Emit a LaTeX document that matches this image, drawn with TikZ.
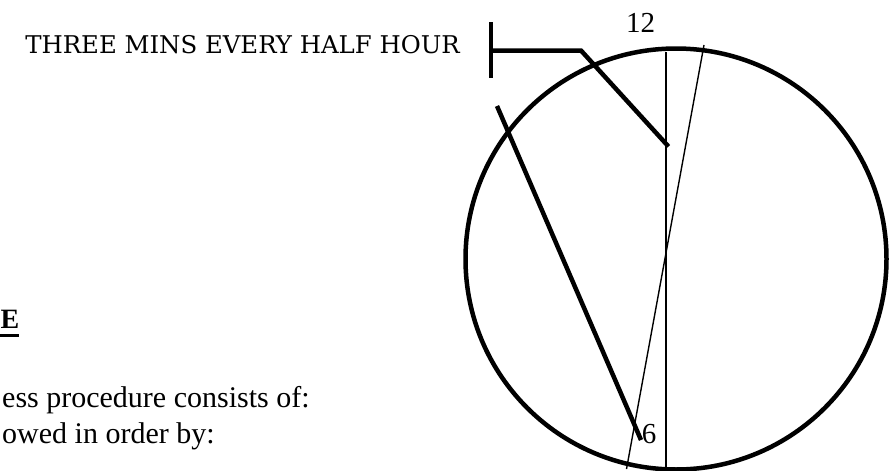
\documentclass[tikz,border=0pt]{standalone}
\usepackage{fontspec}
\setmainfont{Liberation Serif}
\newfontfamily\capsfont{DejaVu Serif}
\begin{document}
\begin{tikzpicture}[x=1pt,y=-1pt,
  thickline/.style={line width=4.5pt},
  thinline/.style={line width=1.4pt},
  txt/.style={inner sep=0pt,font=\fontsize{30}{34}\selectfont},
  numtxt/.style={inner sep=0pt,font=\fontsize{29}{34}\selectfont},
  captxt/.style={inner sep=0pt,font=\capsfont\fontsize{24.4}{28}\selectfont}]
\useasboundingbox (0,0) rectangle (889,471);
\clip (0,0) rectangle (889,471);
\fill[white] (0,0) rectangle (889,471);
% clock face
\coordinate (c) at (676,259);
\draw[thickline] (c) circle[radius=210.5pt];
% thin lines
\coordinate (v1) at (666,52);
\coordinate (v2) at (666,469);
\draw[thinline] (v1) -- (v2);
\coordinate (s1) at (704,45);
\coordinate (s2) at (626.5,469);
\draw[thinline] (s1) -- (s2);
% thick hand
\coordinate (h1) at (497,106);
\coordinate (h2) at (641,440);
\draw[thickline] (h1) -- (h2);
% T pointer
\coordinate (t1) at (491,22);
\coordinate (t2) at (491,78);
\draw[thickline] (t1) -- (t2);
\coordinate (p1) at (489,50.5);
\coordinate (p2) at (581,50.5);
\coordinate (p3) at (668.5,146.5);
\draw[thickline,line join=miter] (p1) -- (p2) -- (p3);
% labels
\node[numtxt,anchor=base] (twelve) at (640.5,32) {12};
\node[numtxt,anchor=base] (six) at (649,443) {6};
\node[captxt,anchor=base east] (three) at (460,53) {THREE MINS EVERY HALF HOUR};
\node[txt,anchor=base west,font=\fontsize{28}{34}\selectfont\bfseries] (ebold) at (0.5,328) {E};
\draw[line width=2.8pt] (0,335.5) -- (19,335.5);
\node[txt,anchor=base west] (line1) at (2,407) {ess procedure consists of:};
\node[txt,anchor=base west] (line2) at (2,443) {owed in order by:};
\end{tikzpicture}
\end{document}
